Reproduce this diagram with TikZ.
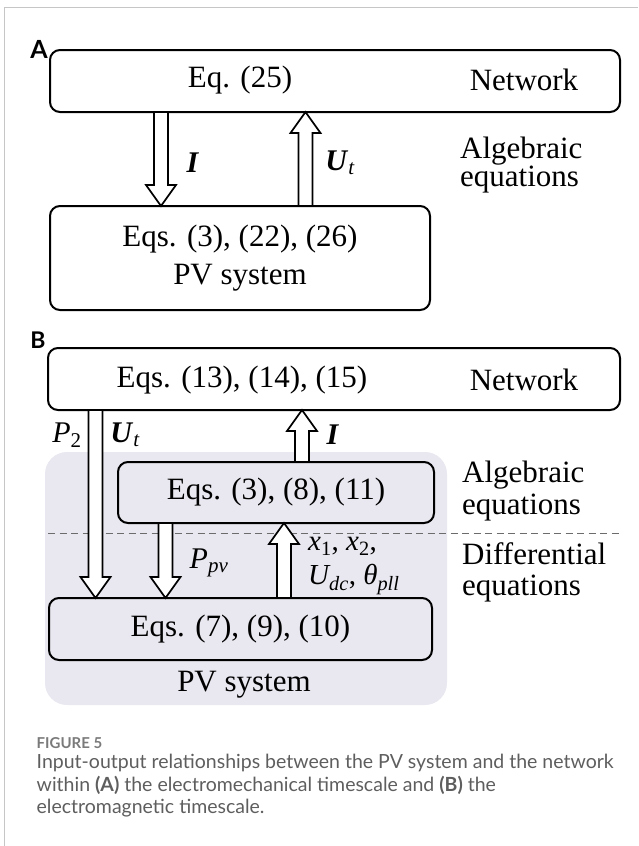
\documentclass[tikz,border=0pt]{standalone}
\usepackage{amsmath}
\usepackage{fontspec}
\setmainfont{Liberation Serif}
\newfontfamily\capfont{Lato}
\usetikzlibrary{calc, positioning}

\definecolor{pvshade}{HTML}{E9E7EF}
\definecolor{capgray}{HTML}{5E5E5E}
\definecolor{figgray}{HTML}{7A7A7A}
\definecolor{framegray}{HTML}{C6C6C6}

\tikzset{
  eqbox/.style={draw, line width=2pt, rounded corners=10pt, inner sep=0pt, outer sep=0pt,
    align=center, font=\fontsize{31}{38}\selectfont},
  eqtext/.style={inner sep=0pt, font=\fontsize{31}{38}\selectfont},
  sidetext/.style={inner sep=0pt, anchor=west, align=left},
  varlabel/.style={inner sep=0pt, font=\fontsize{30}{30}\selectfont},
  hollow/.style={draw, fill=white, line width=1.7pt, line join=miter,
    to path={let \p1=(\tikztostart), \p2=(\tikztotarget), \n1={sign(\y2-\y1)} in
      ({\x1-7pt},\y1) -- ({\x1-7pt},{\y2-\n1*21pt}) -- ({\x1-15pt},{\y2-\n1*21pt})
      -- (\x1,\y2) -- ({\x1+15pt},{\y2-\n1*21pt}) -- ({\x1+7pt},{\y2-\n1*21pt})
      -- ({\x1+7pt},\y1) -- cycle}}
}

\begin{document}
\begin{tikzpicture}[x=1pt, y=-1pt]
    \useasboundingbox (0,0) rectangle (638,846);

    % Cadre
    \coordinate (frameBL) at (4.5,846);
    \coordinate (frameTL) at (4.5,7);
    \coordinate (frameTR) at (638,7);
    \draw[framegray, line width=1pt] (frameBL) -- (frameTL) -- (frameTR);

    % Partie A
    \node[font=\capfont\bfseries\fontsize{25}{25}\selectfont, inner sep=0pt] (tagA) at (39,49) {A};
    \node[eqbox, minimum width=570pt, minimum height=62pt] (netA) at (335,81) {};
    \node[eqtext] (eqA) at (240,80) {Eq. (25)};
    \node[eqtext] (netlabelA) at (524,80) {Network};
    \node[eqbox, fill=white, minimum width=380pt, minimum height=104pt] (pvA) at (240,258)
        {Eqs. (3), (22), (26)\\PV system};
    \node[sidetext, font=\fontsize{31}{28}\selectfont] (algA) at (460,165) {Algebraic\\equations};

    \draw[hollow] ([xshift=-174pt]netA.south) to (pvA.north);
    \draw[hollow] ([xshift=65.5pt]pvA.north) to (netA.south);
    \node[varlabel] (curA) at (193,163) {$\textbf{\textit{I}}$};
    \node[varlabel] (voltA) at (340,163) {$\textbf{\textit{U}}_{\textit{t}}$};

    % Partie B
    \node[font=\capfont\bfseries\fontsize{23}{23}\selectfont, inner sep=0pt] (tagB) at (38,340) {B};
    \node[fill=pvshade, rounded corners=22pt, minimum width=402pt, minimum height=253pt,
        inner sep=0pt] (pvzone) at (246,578.5) {};
    \coordinate (dashL) at (48,533);
    \coordinate (dashR) at (620,533);
    \draw[gray!85!black, line width=0.9pt, dash pattern=on 7pt off 4.5pt] (dashL) -- (dashR);

    \node[eqbox, fill=white, minimum width=572pt, minimum height=62pt] (netB) at (334,379) {};
    \node[eqtext] (eqB) at (242,380) {Eqs. (13), (14), (15)};
    \node[eqtext] (netlabelB) at (524,380) {Network};
    \node[eqbox, minimum width=316pt, minimum height=61pt] (midB) at (276,492.5) {Eqs. (3), (8), (11)};
    \node[eqbox, minimum width=383pt, minimum height=62pt] (pvB) at (240.5,629) {Eqs. (7), (9), (10)};
    \node[eqtext] (pvlabelB) at (244,685) {PV system};

    \node[sidetext, font=\fontsize{31}{32}\selectfont] (algB) at (462,491) {Algebraic\\equations};
    \node[sidetext, font=\fontsize{31}{31}\selectfont] (difB) at (462,572.5) {Differential\\equations};

    \draw[hollow] ([xshift=-238.5pt]netB.south) to (pvB.north);
    \draw[hollow] ([xshift=26pt]midB.north) to (netB.south);
    \draw[hollow] ([xshift=-110.5pt]midB.south) to (pvB.north);
    \draw[hollow] ([xshift=43.5pt]pvB.north) to (midB.south);

    \node[varlabel] (powB) at (67,435) {$\textit{P}_{\text{2}}$};
    \node[varlabel] (voltB) at (125,435) {$\textbf{\textit{U}}_{\textit{t}}$};
    \node[varlabel] (curB) at (333,435) {$\textbf{\textit{I}}$};
    \node[varlabel] (ppvB) at (209,563) {$\textit{P}_{\textit{pv}}$};
    \node[varlabel, anchor=west, align=left, font=\fontsize{29}{34}\selectfont] (stateB) at (308,566)
        {$\textit{x}_{\text{1}}\text{, }\textit{x}_{\text{2}}\text{,}$\\
         $\textit{U}_{\textit{dc}}\text{, }\textit{θ}_{\textit{pll}}$};

    % Légende
    \node[anchor=west, inner sep=0pt, text=figgray, font=\capfont\bfseries\fontsize{15}{16}\selectfont]
        (figno) at (36.5,743) {FIGURE 5};
    \node[anchor=north west, inner sep=0pt, align=left, text=capgray,
        font=\capfont\fontsize{19.5}{22.5}\selectfont] (caption) at (36.5,754)
        {Input-output relationships between the PV system and the network\\
         within \textbf{(A)} the electromechanical timescale and \textbf{(B)} the\\
         electromagnetic timescale.};
\end{tikzpicture}
\end{document}
